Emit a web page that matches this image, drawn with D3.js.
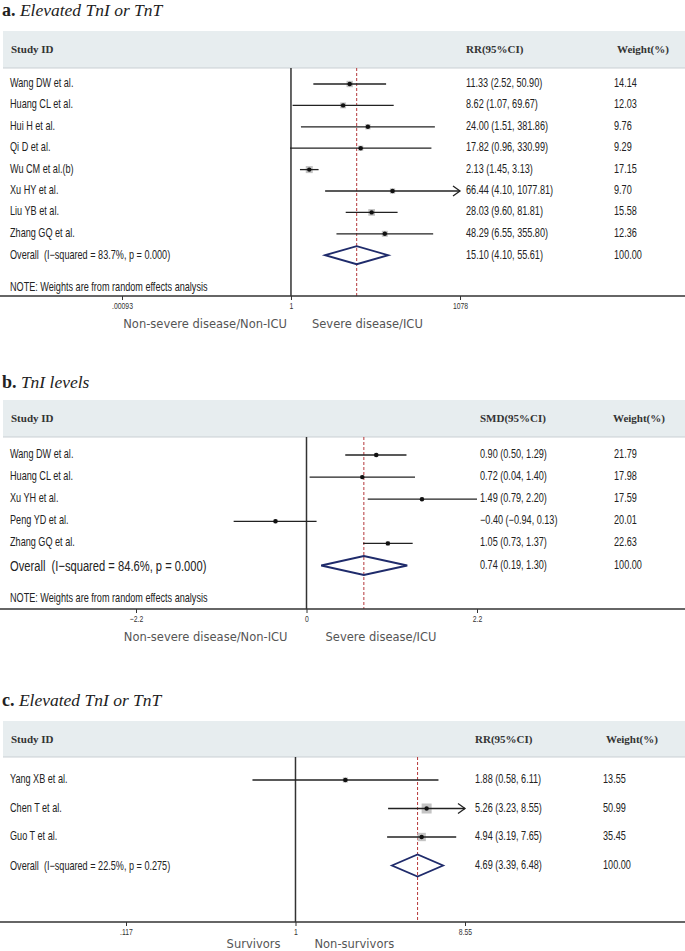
<!DOCTYPE html>
<html>
<head>
<meta charset="utf-8">
<script src="https://cdn.jsdelivr.net/npm/d3@7"></script>
<style>
  body { margin: 0; background: #fff; }
  svg text { white-space: pre; }
</style>
</head>
<body>
<svg id="chart" width="685" height="951"></svg>
<script>
// ---- a. elevated TnI or TnT, severe vs non-severe (RR, log axis)
var studiesA = ["Wang DW et al.", "Huang CL et al.", "Hui H et al.", "Qi D et al.",
                "Wu CM et al.(b)", "Xu HY et al.", "Liu YB et al.", "Zhang GQ et al."];
var rrA = [11.33, 8.62, 24.00, 17.82, 2.13, 66.44, 28.03, 48.29];
var loA = [2.52, 1.07, 1.51, 0.96, 1.45, 4.10, 9.60, 6.55];
var hiA = [50.90, 69.67, 381.86, 330.99, 3.13, 1077.81, 81.81, 355.80];
var weightA = [14.14, 12.03, 9.76, 9.29, 17.15, 9.70, 15.58, 12.36];
var clippedA = [0, 0, 0, 0, 0, 1, 0, 0];
var overallA = [15.10, 4.10, 55.61];
var hetA = ["83.7%", "0.000"];
var ticksA = [0.00093, 1, 1078];
var tickLabelsA = [".00093", "1", "1078"];
var sidesA = ["Non-severe disease/Non-ICU", "Severe disease/ICU"];

// ---- b. TnI levels (SMD, linear axis)
var studiesB = ["Wang DW et al.", "Huang CL et al.", "Xu YH et al.", "Peng YD et al.", "Zhang GQ et al."];
var smdB = [0.90, 0.72, 1.49, -0.40, 1.05];
var loB = [0.50, 0.04, 0.79, -0.94, 0.73];
var hiB = [1.29, 1.40, 2.20, 0.13, 1.37];
var weightB = [21.79, 17.98, 17.59, 20.01, 22.63];
var clippedB = [0, 0, 0, 0, 0];
var overallB = [0.74, 0.19, 1.30];
var hetB = ["84.6%", "0.000"];
var ticksB = [-2.2, 0, 2.2];
var tickLabelsB = ["\u22122.2", "0", "2.2"];
var sidesB = ["Non-severe disease/Non-ICU", "Severe disease/ICU"];

// ---- c. elevated TnI or TnT, non-survivors vs survivors (RR, log axis)
var studiesC = ["Yang XB et al.", "Chen T et al.", "Guo T et al."];
var rrC = [1.88, 5.26, 4.94];
var loC = [0.58, 3.23, 3.19];
var hiC = [6.11, 8.55, 7.65];
var weightC = [13.55, 50.99, 35.45];
var clippedC = [0, 1, 0];
var overallC = [4.69, 3.39, 6.48];
var hetC = ["22.5%", "0.275"];
var ticksC = [0.117, 1, 8.55];
var tickLabelsC = [".117", "1", "8.55"];
var sidesC = ["Survivors", "Non-survivors"];

var serif = '"Liberation Serif", "Times New Roman", serif';
var sans = '"Liberation Sans", Arial, sans-serif';
var plain = '"DejaVu Sans", sans-serif';
var squeeze = 0.76;   // no condensed face installed, so squash Liberation Sans
var fmt = d3.format(".2f");

var svg = d3.select("#chart");

// condensed text: x,y are the anchor point, size in px
function ntext(g, x, y, size, str) {
  return g.append("text")
    .attr("transform", "translate(" + x + "," + y + ") scale(" + squeeze + ",1)")
    .attr("font-family", sans).attr("font-size", size).attr("fill", "#222").text(str);
}

function drawPanel(p) {
  var g = svg.append("g");
  var x = p.scale;
  var y = function(i) { return p.rowTop + i * p.rowStep; };

  // title
  var t = g.append("text").attr("x", 2).attr("y", p.titleY).attr("font-family", serif).attr("fill", "#222");
  t.append("tspan").attr("font-weight", "bold").attr("font-size", 18).text(p.letter);
  t.append("tspan").attr("font-style", "italic").attr("font-size", 17.5).text(" " + p.title);

  // header band
  g.append("rect").attr("x", 3).attr("y", p.bandTop).attr("width", 682)
    .attr("height", p.bandBottom - p.bandTop).attr("fill", "#e7edef");
  g.append("line").attr("x1", 3).attr("x2", 685).attr("y1", p.bandBottom).attr("y2", p.bandBottom)
    .attr("stroke", "#c9d0d3").attr("stroke-width", 1.2);
  var hy = (p.bandTop + p.bandBottom) / 2 + 3.5;
  [["Study ID", 11], [p.effectLabel, p.ciX], ["Weight(%)", p.wX]].forEach(function(h) {
    g.append("text").attr("x", h[1]).attr("y", hy).attr("font-family", serif)
      .attr("font-weight", "bold").attr("font-size", 11).attr("fill", "#333").text(h[0]);
  });

  // null line and pooled estimate line
  g.append("line").attr("x1", x(p.nullValue)).attr("x2", x(p.nullValue))
    .attr("y1", p.bandBottom).attr("y2", p.axisY).attr("stroke", "#333").attr("stroke-width", 1.5);
  g.append("line").attr("x1", x(p.overall[0])).attr("x2", x(p.overall[0]))
    .attr("y1", p.bandBottom).attr("y2", p.axisY).attr("stroke", "#b5383a")
    .attr("stroke-width", 1).attr("stroke-dasharray", "3,2");

  var rows = p.studies.map(function(s, i) {
    return { name: s, est: p.est[i], lo: p.lo[i], hi: p.hi[i], w: p.weight[i], clip: p.clipped[i], i: i };
  });
  var row = g.selectAll("g.row").data(rows).enter().append("g").attr("class", "row");

  row.each(function(d) {
    var r = d3.select(this), ty = y(d.i) + 4;
    ntext(r, 10, ty, 12, d.name);
    ntext(r, p.ciX, ty, 12, fmt(d.est) + " (" + fmt(d.lo) + ", " + fmt(d.hi) + ")");
    ntext(r, p.wvX, ty, 12, fmt(d.w));
  });

  row.append("rect")
    .attr("x", function(d) { return x(d.est) - p.boxK * Math.sqrt(d.w) / 2; })
    .attr("y", function(d) { return y(d.i) + 1 - p.boxK * Math.sqrt(d.w) / 2; })
    .attr("width", function(d) { return p.boxK * Math.sqrt(d.w); })
    .attr("height", function(d) { return p.boxK * Math.sqrt(d.w); })
    .attr("fill", "#c4c4c4");
  row.append("line")
    .attr("x1", function(d) { return x(d.lo); })
    .attr("x2", function(d) { return x(Math.min(d.hi, x.domain()[1])); })
    .attr("y1", function(d) { return y(d.i) + 1; }).attr("y2", function(d) { return y(d.i) + 1; })
    .attr("stroke", "#222").attr("stroke-width", 1.3);
  row.append("circle").attr("cx", function(d) { return x(d.est); }).attr("cy", function(d) { return y(d.i) + 1; })
    .attr("r", 2.2).attr("fill", "#111");
  row.filter(function(d) { return d.clip; }).append("path")
    .attr("d", function(d) {
      var tx = x(Math.min(d.hi, x.domain()[1])), ty = y(d.i) + 1;
      return "M" + (tx - 7) + "," + (ty - 5) + "L" + tx + "," + ty + "L" + (tx - 7) + "," + (ty + 5);
    })
    .attr("fill", "none").attr("stroke", "#222").attr("stroke-width", 1.3);

  // pooled diamond
  var oy = y(rows.length) + 1;
  g.append("polygon")
    .attr("points", [[x(p.overall[1]), oy], [x(p.overall[0]), oy - p.dh], [x(p.overall[2]), oy], [x(p.overall[0]), oy + p.dh]].join(" "))
    .attr("fill", "none").attr("stroke", "#1f2b6b").attr("stroke-width", 1.8);
  ntext(g, 10, oy + p.overallSize * 0.35, p.overallSize,
    "Overall  (I\u2212squared = " + p.het[0] + ", p = " + p.het[1] + ")");
  ntext(g, p.ciX, oy + 3.5, 12, fmt(p.overall[0]) + " (" + fmt(p.overall[1]) + ", " + fmt(p.overall[2]) + ")");
  ntext(g, p.wvX, oy + 3.5, 12, "100.00");

  if (p.noteY) ntext(g, 10, p.noteY + 4, 12, "NOTE: Weights are from random effects analysis");

  // axis
  g.append("line").attr("x1", 0).attr("x2", 685).attr("y1", p.axisY).attr("y2", p.axisY)
    .attr("stroke", "#333").attr("stroke-width", 1.4);
  var axis = d3.axisBottom(x).tickValues(p.ticks)
    .tickFormat(function(d, i) { return p.tickLabels[i]; })
    .tickSize(4).tickPadding(3);
  var ag = g.append("g").attr("transform", "translate(0," + p.axisY + ")").call(axis);
  ag.select(".domain").remove();
  ag.selectAll(".tick line").attr("stroke", "#333");
  ag.selectAll(".tick text").attr("font-family", sans).attr("font-size", 9).attr("fill", "#333")
    .attr("transform", "scale(" + squeeze + ",1)");

  var nx = x(p.nullValue);
  g.append("text").attr("x", nx + p.sideGap[0]).attr("y", p.sideY + 4).attr("text-anchor", "end")
    .attr("font-family", plain).attr("font-size", 11.5).attr("fill", "#555").text(p.sides[0]);
  g.append("text").attr("x", nx + p.sideGap[1]).attr("y", p.sideY + 4)
    .attr("font-family", plain).attr("font-size", 11.5).attr("fill", "#555").text(p.sides[1]);
}

drawPanel({
  letter: "a.", title: "Elevated TnI or TnT", effectLabel: "RR(95%CI)",
  studies: studiesA, est: rrA, lo: loA, hi: hiA, weight: weightA, clipped: clippedA,
  overall: overallA, het: hetA, ticks: ticksA, tickLabels: tickLabelsA, sides: sidesA,
  scale: d3.scaleLog().domain([ticksA[0], ticksA[2]]).range([122, 460]), nullValue: 1,
  titleY: 16, bandTop: 31, bandBottom: 68, rowTop: 83, rowStep: 21.4, noteY: 287,
  axisY: 296, sideY: 324, sideGap: [-4, 21], ciX: 466, wX: 617, wvX: 614,
  boxK: 1.7, dh: 9, overallSize: 12
});

drawPanel({
  letter: "b.", title: "TnI levels", effectLabel: "SMD(95%CI)",
  studies: studiesB, est: smdB, lo: loB, hi: hiB, weight: weightB, clipped: clippedB,
  overall: overallB, het: hetB, ticks: ticksB, tickLabels: tickLabelsB, sides: sidesB,
  scale: d3.scaleLinear().domain([ticksB[0], ticksB[2]]).range([136, 477]), nullValue: 0,
  titleY: 388, bandTop: 400, bandBottom: 437, rowTop: 454, rowStep: 22.1, noteY: 598,
  axisY: 609, sideY: 637, sideGap: [-19, 19], ciX: 480, wX: 613, wvX: 614,
  boxK: 0.9, dh: 9.5, overallSize: 14.7
});

drawPanel({
  letter: "c.", title: "Elevated TnI or TnT", effectLabel: "RR(95%CI)",
  studies: studiesC, est: rrC, lo: loC, hi: hiC, weight: weightC, clipped: clippedC,
  overall: overallC, het: hetC, ticks: ticksC, tickLabels: tickLabelsC, sides: sidesC,
  scale: d3.scaleLog().domain([ticksC[0], ticksC[2]]).range([126, 465]), nullValue: 1,
  titleY: 706, bandTop: 721, bandBottom: 757, rowTop: 779, rowStep: 28.5, noteY: null,
  axisY: 922, sideY: 944, sideGap: [-15, 19], ciX: 475, wX: 606, wvX: 603,
  boxK: 1.4, dh: 11, overallSize: 12
});
</script>
</body>
</html>
